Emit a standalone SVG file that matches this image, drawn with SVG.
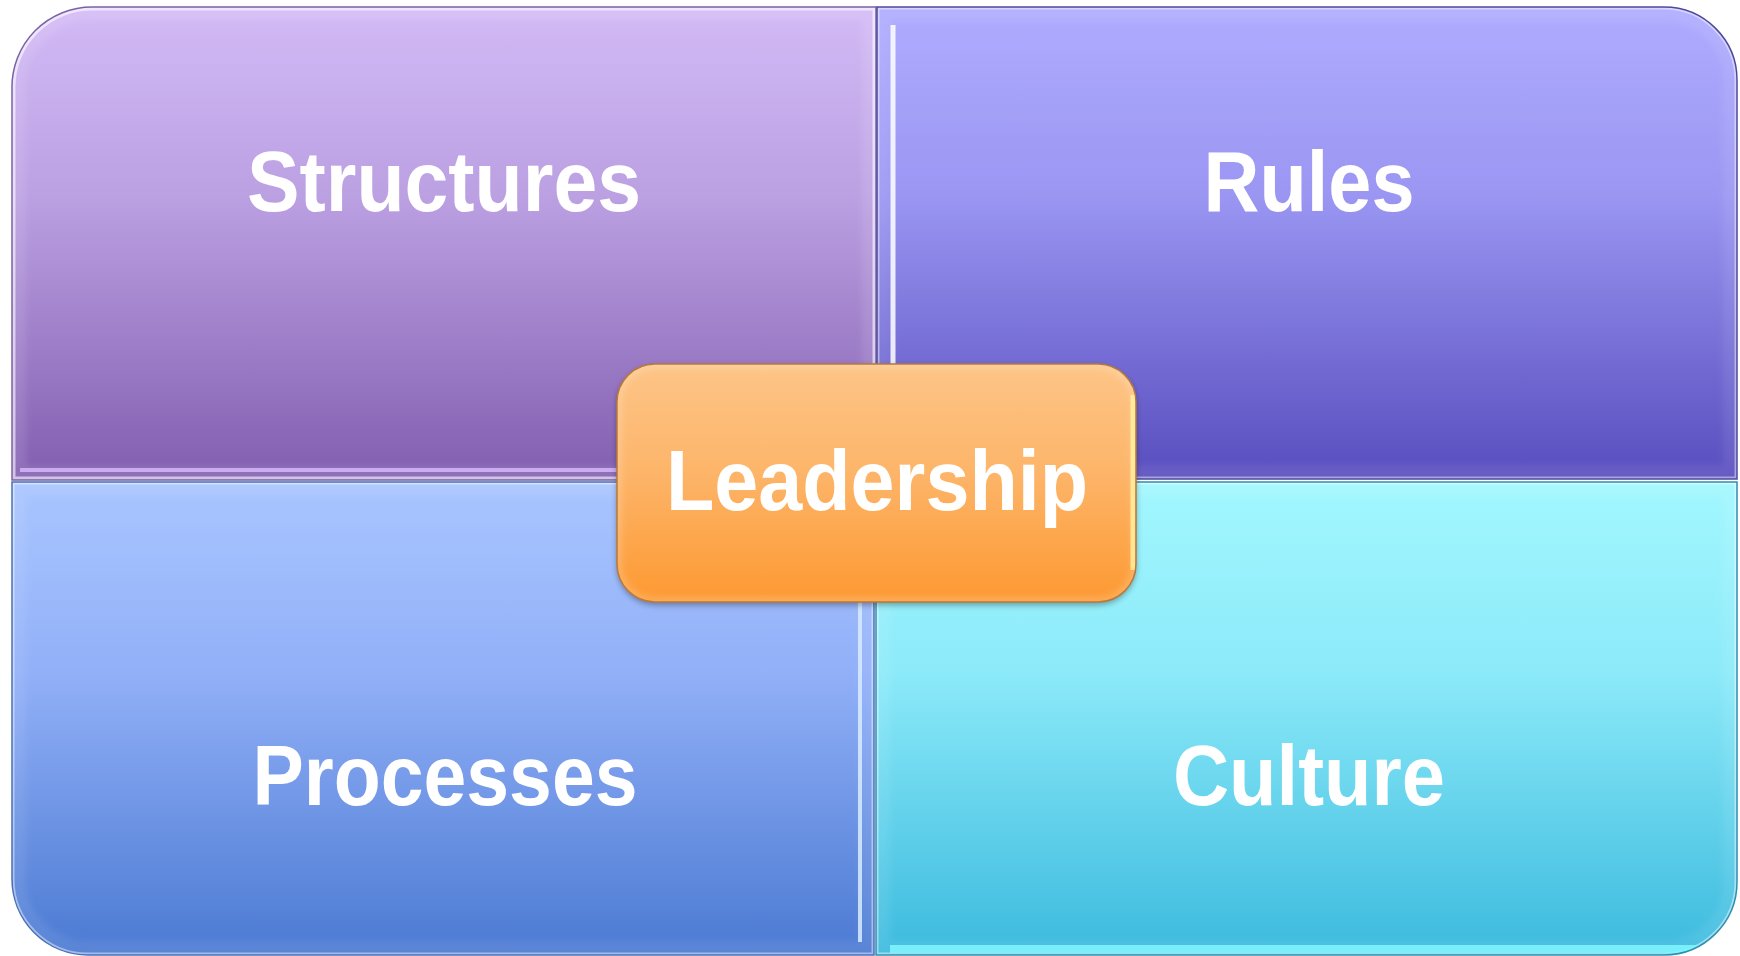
<svg xmlns="http://www.w3.org/2000/svg" width="1740" height="956" viewBox="0 0 1740 956">
  <defs>
    <style>
      .label { font-family: "Liberation Sans", Arial, sans-serif; font-weight: bold; fill: #ffffff; text-anchor: middle; }
      .q { font-size: 85px; }
      .edge { fill: none; stroke: #ffffff; }
      .band { fill: none; stroke-width: 28; filter: url(#soft); }
    </style>
    <!-- quadrant fills -->
    <linearGradient id="gStruct" x1="0" y1="0" x2="0" y2="1">
      <stop offset="0" stop-color="#D2BAF6"/>
      <stop offset="0.4" stop-color="#BBA0E2"/>
      <stop offset="1" stop-color="#825EB0"/>
    </linearGradient>
    <linearGradient id="gRules" x1="0" y1="0" x2="0" y2="1">
      <stop offset="0" stop-color="#AFACFF"/>
      <stop offset="0.4" stop-color="#9A96F2"/>
      <stop offset="1" stop-color="#584DBE"/>
    </linearGradient>
    <linearGradient id="gProc" x1="0" y1="0" x2="0" y2="1">
      <stop offset="0" stop-color="#A9C5FF"/>
      <stop offset="0.4" stop-color="#92B0F8"/>
      <stop offset="1" stop-color="#4B7AD2"/>
    </linearGradient>
    <linearGradient id="gCult" x1="0" y1="0" x2="0" y2="1">
      <stop offset="0" stop-color="#A2F7FE"/>
      <stop offset="0.4" stop-color="#8CEAF9"/>
      <stop offset="1" stop-color="#3CBADE"/>
    </linearGradient>
    <linearGradient id="gLead" x1="0" y1="0" x2="0" y2="1">
      <stop offset="0" stop-color="#FDC587"/>
      <stop offset="0.45" stop-color="#FDB56A"/>
      <stop offset="1" stop-color="#FD9932"/>
    </linearGradient>
    <!-- quadrant outlines -->
    <path id="pStruct" d="M12,480 V88 A80,80 0 0 1 92,7 H876 V480 Z"/>
    <path id="pRules" d="M877,7 H1664 A73,73 0 0 1 1737,80 V479 H877 Z"/>
    <path id="pProc" d="M12,482 H874 V955 H88 A76,76 0 0 1 12,879 Z"/>
    <path id="pCult" d="M876,482 H1737 V882 A73,73 0 0 1 1664,955 H876 Z"/>
    <path id="pLead" d="M655,364 H1098 A38,38 0 0 1 1136,402 V564 A38,38 0 0 1 1098,602 H655 A38,38 0 0 1 617,564 V402 A38,38 0 0 1 655,364 Z"/>
    <clipPath id="cStruct"><use href="#pStruct"/></clipPath>
    <clipPath id="cRules"><use href="#pRules"/></clipPath>
    <clipPath id="cProc"><use href="#pProc"/></clipPath>
    <clipPath id="cCult"><use href="#pCult"/></clipPath>
    <clipPath id="cLead"><use href="#pLead"/></clipPath>
    <filter id="soft" x="-5%" y="-5%" width="110%" height="110%">
      <feGaussianBlur stdDeviation="3"/>
    </filter>
    <filter id="shadow" x="-10%" y="-10%" width="120%" height="130%">
      <feGaussianBlur in="SourceAlpha" stdDeviation="3"/>
      <feOffset dy="3"/>
      <feComponentTransfer><feFuncA type="linear" slope="0.35"/></feComponentTransfer>
      <feMerge><feMergeNode/><feMergeNode in="SourceGraphic"/></feMerge>
    </filter>
  </defs>

  <rect width="1740" height="956" fill="#ffffff"/>

  <!-- Structures: top left -->
  <g id="structures">
    <use href="#pStruct" fill="url(#gStruct)"/>
    <g clip-path="url(#cStruct)">
      <use href="#pStruct" class="band" stroke="#ffffff" stroke-opacity="0.1"/>
      <use href="#pStruct" class="edge" stroke-width="7" stroke-opacity="0.6"/>
      <line x1="20" y1="470" x2="868" y2="470" stroke="#D9BCFF" stroke-width="4" stroke-opacity="0.8"/>
    </g>
    <use href="#pStruct" fill="none" stroke="#7A62A8" stroke-width="1.5"/>
    <text class="label q" x="444" y="211" textLength="394" lengthAdjust="spacingAndGlyphs">Structures</text>
  </g>

  <!-- Rules: top right -->
  <g id="rules">
    <use href="#pRules" fill="url(#gRules)"/>
    <g clip-path="url(#cRules)">
      <use href="#pRules" class="band" stroke="#ffffff" stroke-opacity="0.08"/>
      <use href="#pRules" class="edge" stroke-width="5" stroke-opacity="0.45"/>
      <line x1="893" y1="25" x2="893" y2="470" stroke="#ffffff" stroke-width="5" stroke-opacity="0.85"/>
    </g>
    <use href="#pRules" fill="none" stroke="#4E4A9A" stroke-width="1.5"/>
    <text class="label q" x="1309" y="211" textLength="211" lengthAdjust="spacingAndGlyphs">Rules</text>
  </g>

  <!-- Processes: bottom left -->
  <g id="processes">
    <use href="#pProc" fill="url(#gProc)"/>
    <g clip-path="url(#cProc)">
      <use href="#pProc" class="band" stroke="#ffffff" stroke-opacity="0.08"/>
      <use href="#pProc" class="edge" stroke-width="5" stroke-opacity="0.45"/>
      <line x1="860" y1="490" x2="860" y2="942" stroke="#D8ECFF" stroke-width="4" stroke-opacity="0.85"/>
    </g>
    <use href="#pProc" fill="none" stroke="#4A70B8" stroke-width="1.5"/>
    <text class="label q" x="445" y="805" textLength="385" lengthAdjust="spacingAndGlyphs">Processes</text>
  </g>

  <!-- Culture: bottom right -->
  <g id="culture">
    <use href="#pCult" fill="url(#gCult)"/>
    <g clip-path="url(#cCult)">
      <use href="#pCult" class="band" stroke="#ffffff" stroke-opacity="0.08"/>
      <use href="#pCult" class="edge" stroke-width="5" stroke-opacity="0.45"/>
      <line x1="890" y1="949" x2="1700" y2="949" stroke="#7FF4FF" stroke-width="8" stroke-opacity="0.9"/>
    </g>
    <use href="#pCult" fill="none" stroke="#2F8FB0" stroke-width="1.5"/>
    <text class="label q" x="1309" y="805" textLength="272" lengthAdjust="spacingAndGlyphs">Culture</text>
  </g>

  <!-- Leadership: centre -->
  <g id="leadership">
    <use href="#pLead" fill="url(#gLead)" filter="url(#shadow)"/>
    <g clip-path="url(#cLead)">
      <use href="#pLead" fill="none" stroke="#ffffff" stroke-width="10" stroke-opacity="0.18" filter="url(#soft)"/>
      <line x1="1133" y1="395" x2="1133" y2="570" stroke="#FFF2A0" stroke-width="5" stroke-opacity="0.8"/>
    </g>
    <use href="#pLead" fill="none" stroke="#B87A3A" stroke-width="1.5"/>
    <text class="label" x="877" y="510" font-size="86" textLength="422" lengthAdjust="spacingAndGlyphs">Leadership</text>
  </g>
</svg>
